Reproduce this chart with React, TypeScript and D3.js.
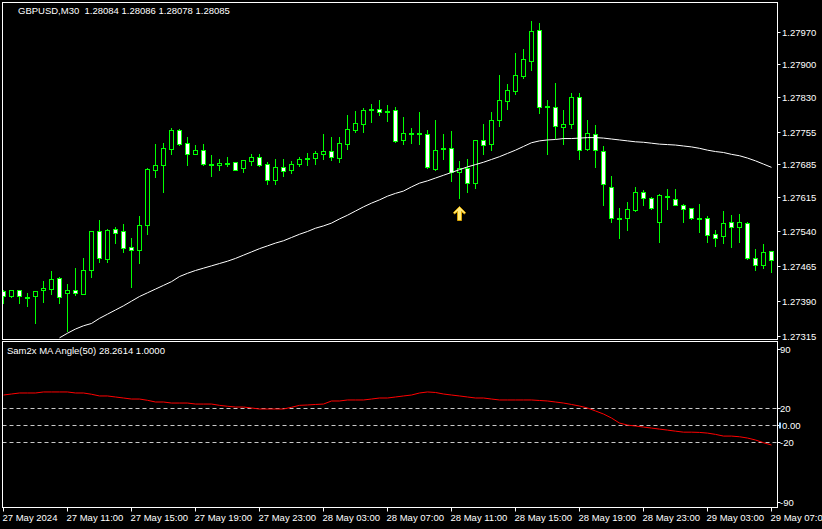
import React from 'react';
import * as d3 from 'd3';

const W = 822;
const H = 529;

const titleText = 'GBPUSD,M30  1.28084 1.28086 1.28078 1.28085';
const subTitleText = 'Sam2x MA Angle(50) 28.2614 1.0000';

const timeLabels = [
  '27 May 2024', '27 May 11:00', '27 May 15:00', '27 May 19:00', '27 May 23:00',
  '28 May 03:00', '28 May 07:00', '28 May 11:00', '28 May 15:00', '28 May 19:00',
  '28 May 23:00', '29 May 03:00', '29 May 07:00',
];
const barsPerLabel = 8;

const priceTicks = [1.2797, 1.279, 1.2783, 1.27755, 1.27685, 1.27615, 1.2754, 1.27465, 1.2739, 1.27315];
const angleTicks = [90, 20, 0, -20, -90];
const angleLevels = [20, 0, -20];

const opens = [
  1.27412, 1.27402, 1.27413, 1.27400, 1.27402, 1.27413, 1.27417, 1.27440, 1.27407, 1.27414,
  1.27406, 1.27456, 1.27540, 1.27481, 1.27545, 1.27540, 1.27507, 1.27501, 1.27555, 1.27673,
  1.27682, 1.27718, 1.27758, 1.27730, 1.27707, 1.27716, 1.27685, 1.27684, 1.27688, 1.27689,
  1.27677, 1.27692, 1.27700, 1.27685, 1.27651, 1.27678, 1.27673, 1.27686, 1.27698, 1.27699,
  1.27707, 1.27713, 1.27699, 1.27729, 1.27758, 1.27772, 1.27804, 1.27804, 1.27800, 1.27801,
  1.27737, 1.27753, 1.27751, 1.27749, 1.27675, 1.27719, 1.27719, 1.27667, 1.27677, 1.27645,
  1.27736, 1.27728, 1.27779, 1.27820, 1.27843, 1.27875, 1.27908, 1.27973, 1.27809, 1.27807,
  1.27764, 1.27771, 1.27829, 1.27718, 1.27749, 1.27713, 1.27636, 1.27570, 1.27570, 1.27587,
  1.27624, 1.27611, 1.27560, 1.27617, 1.27609, 1.27596, 1.27590, 1.27568, 1.27568, 1.27534,
  1.27530, 1.27560, 1.27549, 1.27558, 1.27482, 1.27467, 1.27497,
];
const highs = [
  1.27413, 1.27414, 1.27414, 1.27408, 1.27411, 1.27433, 1.27455, 1.27442, 1.27427, 1.27461,
  1.27483, 1.27540, 1.27565, 1.27545, 1.27550, 1.27556, 1.27527, 1.27573, 1.27677, 1.27728,
  1.27731, 1.27763, 1.27761, 1.27743, 1.27726, 1.27728, 1.27705, 1.27697, 1.27700, 1.27690,
  1.27694, 1.27707, 1.27707, 1.27690, 1.27696, 1.27696, 1.27692, 1.27700, 1.27709, 1.27713,
  1.27750, 1.27743, 1.27743, 1.27791, 1.27799, 1.27806, 1.27814, 1.27823, 1.27812, 1.27808,
  1.27786, 1.27763, 1.27797, 1.27758, 1.27779, 1.27750, 1.27756, 1.27692, 1.27697, 1.27737,
  1.27771, 1.27797, 1.27877, 1.27857, 1.27924, 1.27933, 1.27993, 1.27989, 1.27822, 1.27859,
  1.27801, 1.27837, 1.27837, 1.27779, 1.27770, 1.27724, 1.27659, 1.27590, 1.27603, 1.27635,
  1.27629, 1.27614, 1.27620, 1.27631, 1.27631, 1.27599, 1.27591, 1.27599, 1.27573, 1.27543,
  1.27583, 1.27575, 1.27577, 1.27560, 1.27502, 1.27512, 1.27497,
];
const lows = [
  1.27385, 1.27399, 1.27385, 1.27380, 1.27344, 1.27389, 1.27406, 1.27387, 1.27326, 1.27404,
  1.27405, 1.27442, 1.27475, 1.27474, 1.27515, 1.27496, 1.27421, 1.27472, 1.27535, 1.27657,
  1.27625, 1.27707, 1.27726, 1.27684, 1.27706, 1.27684, 1.27659, 1.27673, 1.27681, 1.27672,
  1.27668, 1.27684, 1.27681, 1.27642, 1.27642, 1.27659, 1.27666, 1.27681, 1.27683, 1.27686,
  1.27696, 1.27694, 1.27690, 1.27718, 1.27754, 1.27754, 1.27776, 1.27791, 1.27778, 1.27733,
  1.27728, 1.27730, 1.27728, 1.27676, 1.27672, 1.27696, 1.27649, 1.27611, 1.27624, 1.27634,
  1.27707, 1.27715, 1.27768, 1.27804, 1.27836, 1.27871, 1.27888, 1.27794, 1.27706, 1.27741,
  1.27728, 1.27763, 1.27695, 1.27716, 1.27679, 1.27596, 1.27561, 1.27527, 1.27544, 1.27584,
  1.27596, 1.27588, 1.27518, 1.27588, 1.27596, 1.27560, 1.27567, 1.27539, 1.27518, 1.27508,
  1.27516, 1.27506, 1.27518, 1.27480, 1.27458, 1.27461, 1.27453,
];
const closes = [
  1.27402, 1.27413, 1.27402, 1.27400, 1.27411, 1.27418, 1.27438, 1.27398, 1.27414, 1.27408,
  1.27456, 1.27540, 1.27482, 1.27543, 1.27537, 1.27505, 1.27501, 1.27555, 1.27675, 1.27682,
  1.27720, 1.27758, 1.27729, 1.27707, 1.27715, 1.27686, 1.27685, 1.27688, 1.27688, 1.27673,
  1.27694, 1.27700, 1.27684, 1.27651, 1.27679, 1.27671, 1.27685, 1.27696, 1.27698, 1.27709,
  1.27713, 1.27701, 1.27730, 1.27761, 1.27774, 1.27801, 1.27804, 1.27798, 1.27800, 1.27735,
  1.27752, 1.27753, 1.27751, 1.27678, 1.27716, 1.27719, 1.27667, 1.27677, 1.27644, 1.27736,
  1.27726, 1.27781, 1.27822, 1.27844, 1.27876, 1.27911, 1.27972, 1.27807, 1.27809, 1.27766,
  1.27771, 1.27829, 1.27716, 1.27751, 1.27715, 1.27642, 1.27568, 1.27570, 1.27588, 1.27624,
  1.27611, 1.27590, 1.27619, 1.27617, 1.27598, 1.27588, 1.27568, 1.27568, 1.27532, 1.27527,
  1.27558, 1.27549, 1.27560, 1.27482, 1.27467, 1.27495, 1.27478,
];

const maValues: (number | null)[] = [
  null, null, null, null, null, null, null, 1.27311, 1.27321, 1.27330,
  1.27337, 1.27342, 1.27353, 1.27362, 1.27371, 1.27380, 1.27390, 1.27400, 1.27408, 1.27416,
  1.27424, 1.27432, 1.27443, 1.27450, 1.27456, 1.27461, 1.27466, 1.27471, 1.27476, 1.27482,
  1.27489, 1.27496, 1.27503, 1.27509, 1.27515, 1.27520, 1.27527, 1.27534, 1.27540, 1.27547,
  1.27552, 1.27558, 1.27567, 1.27575, 1.27584, 1.27593, 1.27601, 1.27608, 1.27616, 1.27622,
  1.27627, 1.27636, 1.27644, 1.27649, 1.27655, 1.27661, 1.27667, 1.27673, 1.27679, 1.27684,
  1.27689, 1.27695, 1.27701, 1.27708, 1.27715, 1.27723, 1.27731, 1.27735, 1.27737, 1.27738,
  1.27740, 1.27740, 1.27741, 1.27742, 1.27742, 1.27741, 1.27739, 1.27737, 1.27735, 1.27733,
  1.27732, 1.27730, 1.27728, 1.27727, 1.27726, 1.27724, 1.27722, 1.27719, 1.27715, 1.27712,
  1.27710, 1.27706, 1.27703, 1.27698, 1.27692, 1.27685, 1.27678,
];

const angleValues = [
  35.6, 36.8, 38.0, 38.0, 38.0, 39.2, 39.2, 39.2, 39.2, 38.0,
  38.0, 36.5, 34.5, 34.5, 33.3, 32.1, 30.9, 30.9, 29.4, 27.4,
  27.4, 26.2, 26.2, 26.2, 25.0, 25.0, 25.0, 23.5, 22.4, 21.5,
  21.5, 20.4, 19.2, 19.2, 19.2, 19.2, 21.2, 23.5, 23.9, 24.5,
  25.0, 28.6, 28.6, 29.8, 29.8, 29.8, 30.9, 32.1, 32.1, 33.3,
  34.5, 35.6, 38.0, 39.2, 38.6, 36.8, 35.6, 34.5, 33.3, 32.1,
  32.1, 30.9, 29.8, 29.8, 29.8, 29.8, 29.8, 29.2, 28.6, 27.4,
  26.2, 24.5, 22.7, 20.4, 16.9, 13.3, 8.6, 2.7, 0.3, -0.8,
  -2.0, -3.2, -4.4, -5.6, -6.8, -8.0, -8.0, -8.3, -9.1, -10.6,
  -12.6, -12.6, -13.4, -14.9, -17.2, -20.4, -23.1,
];

const signalBar = 57;

const FONT = '"Liberation Sans", Arial, sans-serif';
const GREEN = '#00ff00';

export default function App() {
  const n = opens.length;
  const left = 2.5, right = 777.5;
  const mainTop = 2.5, mainBottom = 339.5;
  const subTop = 341.5, subBottom = 507.5;

  const x = d3.scaleLinear().domain([0, n - 1]).range([3, 3 + 8 * (n - 1)]);
  const y = d3.scaleLinear().domain([1.27315, 1.2797]).range([336, 31.7]);
  const ya = d3.scaleLinear().domain([-90, 90]).range([502, 348.7]);

  const px = (i: number) => Math.round(x(i)) + 0.5;

  const maLine = d3.line<number | null>()
    .defined((d) => d != null)
    .x((_, i) => x(i) + 0.5)
    .y((d) => y(d as number));

  const angleLine = d3.line<number>()
    .x((_, i) => x(i) + 0.5)
    .y((d) => ya(d));

  const candles = opens.map((o, i) => {
    const c = closes[i];
    const cx = px(i);
    const yTop = Math.round(y(Math.max(o, c))) + 0.5;
    const yBot = Math.round(y(Math.min(o, c))) + 0.5;
    const bear = c < o;
    return (
      <g key={i}>
        <line x1={cx} x2={cx} y1={Math.round(y(highs[i]))} y2={Math.round(y(lows[i])) + 1} stroke={GREEN} strokeWidth={1} />
        <rect x={cx - 2} y={yTop} width={4} height={Math.max(yBot - yTop, 1)} fill={bear ? '#ffffff' : '#000000'} stroke={GREEN} strokeWidth={1} />
      </g>
    );
  });

  const ax = px(signalBar);
  const ay = Math.round(y(lows[signalBar])) + 8.5;
  const arrowPath = `M${ax},${ay} L${ax + 6},${ay + 6} L${ax + 5},${ay + 7.5} L${ax + 2},${ay + 5} L${ax + 2},${ay + 14} L${ax - 2},${ay + 14} L${ax - 2},${ay + 5} L${ax - 5},${ay + 7.5} L${ax - 6},${ay + 6} Z`;

  return (
    <svg width={W} height={H} style={{ position: 'absolute', left: 0, top: 0, display: 'block', background: '#000' }}>
      <defs>
        <clipPath id="mainClip"><rect x={left + 0.5} y={mainTop + 0.5} width={right - left - 1} height={mainBottom - mainTop - 1} /></clipPath>
        <clipPath id="subClip"><rect x={left + 0.5} y={subTop + 0.5} width={right - left - 1} height={subBottom - subTop - 1} /></clipPath>
      </defs>
      <rect x={0} y={0} width={W} height={H} fill="#000" />

      <g clipPath="url(#mainClip)">
        {candles}
        <path d={maLine(maValues) || ''} fill="none" stroke="#ffffff" strokeWidth={1} />
        <path d={arrowPath} fill="#ffe97a" stroke="#d9a300" strokeWidth={1} strokeLinejoin="round" />
      </g>

      <g clipPath="url(#subClip)">
        {angleLevels.map((v) => (
          <line key={v} x1={left} x2={right} y1={Math.round(ya(v)) + 0.5} y2={Math.round(ya(v)) + 0.5} stroke="#c8c8c8" strokeWidth={1} strokeDasharray="4,3" />
        ))}
        <path d={angleLine(angleValues) || ''} fill="none" stroke="#ff0000" strokeWidth={1} />
      </g>

      <rect x={left} y={mainTop} width={right - left} height={mainBottom - mainTop} fill="none" stroke="#ffffff" strokeWidth={1} />
      <rect x={left} y={subTop} width={right - left} height={subBottom - subTop} fill="none" stroke="#ffffff" strokeWidth={1} />

      {priceTicks.map((p) => {
        const yy = Math.round(y(p)) + 0.5;
        return (
          <g key={p}>
            <line x1={right} x2={right + 3} y1={yy} y2={yy} stroke="#ffffff" />
            <text x={782} y={yy + 3.5} fill="#ffffff" fontSize={9.5} fontFamily={FONT}>{p.toFixed(5)}</text>
          </g>
        );
      })}

      {angleTicks.map((v) => {
        const yy = Math.round(ya(v)) + 0.5;
        return (
          <g key={v}>
            <line x1={right} x2={right + 3} y1={yy} y2={yy} stroke="#ffffff" />
            {v === 0 && <rect x={779} y={yy - 3} width={2} height={6} fill="#9fd4ff" />}
            <text x={v === 0 ? 782 : 780} y={yy + 3.5} fill="#ffffff" fontSize={9.5} fontFamily={FONT}>{v === 0 ? '0.00' : String(v)}</text>
          </g>
        );
      })}

      {timeLabels.map((t, k) => {
        const xx = px(k * barsPerLabel);
        return (
          <g key={t}>
            <line x1={xx} x2={xx} y1={subBottom} y2={subBottom + 4} stroke="#ffffff" />
            <text x={xx - 1} y={521} fill="#ffffff" fontSize={9.5} fontFamily={FONT}>{t}</text>
          </g>
        );
      })}

      <text x={18} y={14} fill="#ffffff" fontSize={9.5} fontFamily={FONT} style={{ whiteSpace: 'pre' }}>{titleText}</text>
      <text x={7} y={354} fill="#ffffff" fontSize={9.5} fontFamily={FONT} style={{ whiteSpace: 'pre' }}>{subTitleText}</text>
    </svg>
  );
}
